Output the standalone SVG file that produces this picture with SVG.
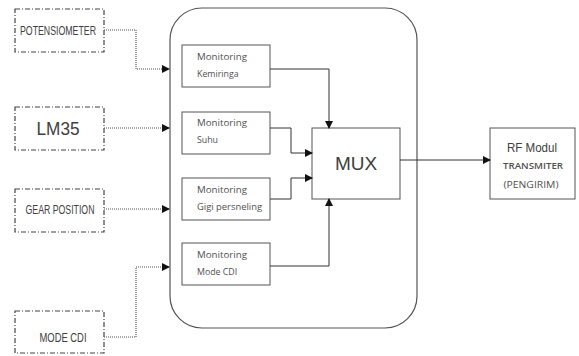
<svg xmlns="http://www.w3.org/2000/svg" width="579" height="356" viewBox="0 0 579 356">
<style>
.in{fill:#fff;stroke:#444;stroke-width:1.2;stroke-dasharray:5,2,1,2}
.box{fill:#fff;stroke:#555;stroke-width:1}
.t{font-family:"Liberation Sans",Arial,sans-serif;fill:#404040}
.s{font-family:"Open Sans","Liberation Sans",sans-serif;fill:#505050;font-size:8.8px}
.dot{fill:none;stroke:#555;stroke-width:1.2;stroke-dasharray:1,1}
.ln{fill:none;stroke:#333;stroke-width:1}
</style>
<defs>
<marker id="ah" markerWidth="8" markerHeight="8" refX="7" refY="4" orient="auto" markerUnits="userSpaceOnUse">
<path d="M0,0 L8,4 L0,8 z" fill="#111"/>
</marker>
</defs>
<g id="main">
<rect x="170" y="8" width="247" height="320" rx="32" ry="32" fill="#fff" stroke="#555" stroke-width="1.2"/>
</g>
<g id="potensiometer">
<rect class="in" x="15" y="9" width="89" height="43"/>
<text class="t" x="58" y="35" font-size="13" text-anchor="middle" textLength="76" lengthAdjust="spacingAndGlyphs">POTENSIOMETER</text>
</g>
<g id="lm35">
<rect class="in" x="15" y="107" width="89" height="43"/>
<text class="t" x="58" y="135" font-size="18" text-anchor="middle" textLength="43" lengthAdjust="spacingAndGlyphs">LM35</text>
</g>
<g id="gear">
<rect class="in" x="15" y="189" width="89" height="43"/>
<text class="t" x="60" y="214" font-size="12.5" text-anchor="middle" textLength="69" lengthAdjust="spacingAndGlyphs">GEAR POSITION</text>
</g>
<g id="modecdi">
<rect class="in" x="15" y="311" width="89" height="42"/>
<text class="t" x="63" y="342" font-size="13" text-anchor="middle" textLength="47" lengthAdjust="spacingAndGlyphs">MODE CDI</text>
</g>
<g id="mon-kemiringa">
<rect class="box" x="182" y="45" width="88" height="42"/>
<text class="s" x="197" y="60" textLength="50" lengthAdjust="spacingAndGlyphs">Monitoring</text>
<text class="s" x="197" y="77">Kemiringa</text>
</g>
<g id="mon-suhu">
<rect class="box" x="182" y="112" width="88" height="42"/>
<text class="s" x="197" y="126" textLength="50" lengthAdjust="spacingAndGlyphs">Monitoring</text>
<text class="s" x="197" y="143">Suhu</text>
</g>
<g id="mon-gigi">
<rect class="box" x="182" y="178" width="88" height="42"/>
<text class="s" x="197" y="193" textLength="50" lengthAdjust="spacingAndGlyphs">Monitoring</text>
<text class="s" x="197" y="210" textLength="65" lengthAdjust="spacingAndGlyphs">Gigi persneling</text>
</g>
<g id="mon-cdi">
<rect class="box" x="182" y="243" width="88" height="42"/>
<text class="s" x="197" y="258" textLength="50" lengthAdjust="spacingAndGlyphs">Monitoring</text>
<text class="s" x="197" y="275">Mode CDI</text>
</g>
<g id="mux">
<rect class="box" x="312" y="128" width="88" height="71"/>
<text class="t" x="356" y="170" font-size="19" text-anchor="middle">MUX</text>
</g>
<g id="rf">
<rect class="box" x="490" y="128" width="85" height="71"/>
<text class="t" x="532" y="152" font-size="13" text-anchor="middle" textLength="50" lengthAdjust="spacingAndGlyphs">RF Modul</text>
<text class="s" x="533" y="169" text-anchor="middle" font-size="8.5" font-weight="600" textLength="60" lengthAdjust="spacingAndGlyphs">TRANSMITER</text>
<text class="s" x="531" y="188" text-anchor="middle" font-size="8.5" textLength="55" lengthAdjust="spacingAndGlyphs">(PENGIRIM)</text>
</g>
<g id="connectors">
<polyline class="dot" points="104,30 136,30 136,69 169,69" marker-end="url(#ah)"/>
<polyline class="dot" points="104,128 169,128" marker-end="url(#ah)"/>
<polyline class="dot" points="104,209 169,209" marker-end="url(#ah)"/>
<polyline class="dot" points="104,337 136,337 136,267 169,267" marker-end="url(#ah)"/>
<polyline class="ln" points="270,69 329,69 329,128" marker-end="url(#ah)"/>
<polyline class="ln" points="270,128 291,128 291,153 312,153" marker-end="url(#ah)"/>
<polyline class="ln" points="270,199 291,199 291,178 312,178" marker-end="url(#ah)"/>
<polyline class="ln" points="270,266 329,266 329,199" marker-end="url(#ah)"/>
<polyline class="ln" points="400,160 490,160" marker-end="url(#ah)"/>
</g>
</svg>
